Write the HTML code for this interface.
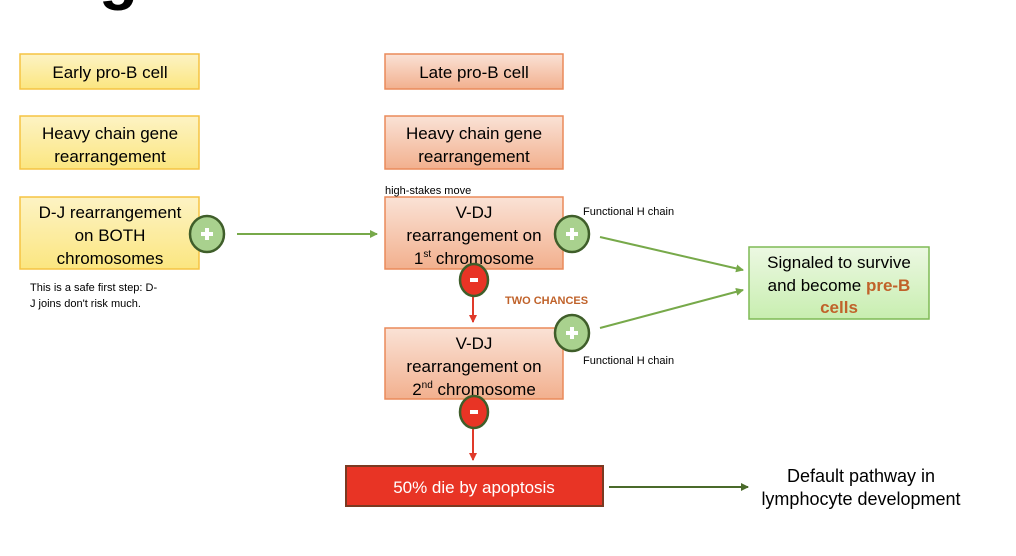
<!DOCTYPE html>
<html><head><meta charset="utf-8"><style>
body{margin:0;background:#fff;}
svg{display:block;font-family:"Liberation Sans",Arial,sans-serif;}
</style></head><body>
<svg width="1016" height="556" viewBox="0 0 1016 556" xmlns="http://www.w3.org/2000/svg">
<defs>
<linearGradient id="y" x1="0" y1="0" x2="0" y2="1"><stop offset="0" stop-color="#fdf3c4"/><stop offset="1" stop-color="#fbe680"/></linearGradient>
<linearGradient id="o" x1="0" y1="0" x2="0" y2="1"><stop offset="0" stop-color="#fae2d6"/><stop offset="1" stop-color="#f2b08e"/></linearGradient>
<linearGradient id="g" x1="0" y1="0" x2="0" y2="1"><stop offset="0" stop-color="#ecf8e2"/><stop offset="1" stop-color="#c8eeb0"/></linearGradient>
<marker id="ag" markerWidth="8" markerHeight="8" refX="7" refY="4" orient="auto" markerUnits="userSpaceOnUse"><path d="M0,0 L8,4 L0,8z" fill="#77a94a"/></marker>
<marker id="ar" markerWidth="8" markerHeight="8" refX="7" refY="4" orient="auto" markerUnits="userSpaceOnUse"><path d="M0,0 L8,4 L0,8z" fill="#e03a2a"/></marker>
<marker id="ad" markerWidth="8" markerHeight="8" refX="7" refY="4" orient="auto" markerUnits="userSpaceOnUse"><path d="M0,0 L8,4 L0,8z" fill="#4a6a2a"/></marker>
</defs>
<text x="99" y="-3" font-size="64" font-weight="bold">g</text>

<g stroke="#f5c342" stroke-width="1.5" fill="url(#y)">
<rect x="20" y="54" width="179" height="35"/>
<rect x="20" y="116" width="179" height="53"/>
<rect x="20" y="197" width="179" height="72"/>
</g>
<g stroke="#ea8a5a" stroke-width="1.5" fill="url(#o)">
<rect x="385" y="54" width="178" height="35"/>
<rect x="385" y="116" width="178" height="53"/>
<rect x="385" y="197" width="178" height="72"/>
<rect x="385" y="328" width="178" height="71"/>
</g>
<rect x="749" y="247" width="180" height="72" fill="url(#g)" stroke="#7fba55" stroke-width="1.5"/>
<rect x="346" y="466" width="257" height="40" fill="#e83425" stroke="#7a3a22" stroke-width="2"/>

<g font-size="17" text-anchor="middle" fill="#000">
<text x="110" y="78">Early pro-B cell</text>
<text x="110" y="139">Heavy chain gene</text><text x="110" y="162">rearrangement</text>
<text x="110" y="218">D-J rearrangement</text><text x="110" y="241">on BOTH</text><text x="110" y="264">chromosomes</text>
<text x="474" y="78">Late pro-B cell</text>
<text x="474" y="139">Heavy chain gene</text><text x="474" y="162">rearrangement</text>
<text x="474" y="218">V-DJ</text><text x="474" y="241">rearrangement on</text><text x="474" y="264">1<tspan font-size="10" dy="-7">st</tspan><tspan dy="7"> chromosome</tspan></text>
<text x="474" y="349">V-DJ</text><text x="474" y="372">rearrangement on</text><text x="474" y="395">2<tspan font-size="10" dy="-7">nd</tspan><tspan dy="7"> chromosome</tspan></text>
<text x="839" y="268">Signaled to survive</text>
<text x="839" y="291">and become <tspan fill="#c0622a" font-weight="bold">pre-B</tspan></text>
<text x="839" y="313" fill="#c0622a" font-weight="bold">cells</text>
<text x="474" y="493" fill="#fff">50% die by apoptosis</text>
<text x="861" y="482" font-size="18">Default pathway in</text>
<text x="861" y="505" font-size="18">lymphocyte development</text>
</g>
<g font-size="11" fill="#000">
<text x="385" y="194">high-stakes move</text>
<text x="583" y="215">Functional H chain</text>
<text x="583" y="364">Functional H chain</text>
<text x="30" y="291">This is a safe first step: D-</text>
<text x="30" y="307">J joins don't risk much.</text>
</g>
<text x="505" y="304" font-size="11" font-weight="bold" fill="#c0622a">TWO CHANCES</text>

<g stroke-width="2" fill="none">
<line x1="237" y1="234" x2="377" y2="234" stroke="#77a94a" marker-end="url(#ag)"/>
<line x1="600" y1="237" x2="743" y2="270" stroke="#77a94a" marker-end="url(#ag)"/>
<line x1="600" y1="328" x2="743" y2="290" stroke="#77a94a" marker-end="url(#ag)"/>
<line x1="473" y1="296" x2="473" y2="322" stroke="#e03a2a" marker-end="url(#ar)"/>
<line x1="473" y1="428" x2="473" y2="460" stroke="#e03a2a" marker-end="url(#ar)"/>
<line x1="609" y1="487" x2="748" y2="487" stroke="#4a6a2a" marker-end="url(#ad)"/>
</g>

<g stroke="#3f5e2a" stroke-width="2.5" fill="#a9d18e">
<ellipse cx="207" cy="234" rx="17" ry="18"/>
<ellipse cx="572" cy="234" rx="17" ry="18"/>
<ellipse cx="572" cy="333" rx="17" ry="18"/>
</g>
<g stroke="#3f5e2a" stroke-width="2.5" fill="#e83425">
<ellipse cx="474" cy="280" rx="14" ry="16"/>
<ellipse cx="474" cy="412" rx="14" ry="16"/>
</g>
<g fill="#fff">
<rect x="201" y="232" width="12" height="4"/><rect x="205" y="228" width="4" height="12"/>
<rect x="566" y="232" width="12" height="4"/><rect x="570" y="228" width="4" height="12"/>
<rect x="566" y="331" width="12" height="4"/><rect x="570" y="327" width="4" height="12"/>
<rect x="470" y="278" width="8" height="4"/>
<rect x="470" y="410" width="8" height="4"/>
</g>
</svg>
</body></html>
